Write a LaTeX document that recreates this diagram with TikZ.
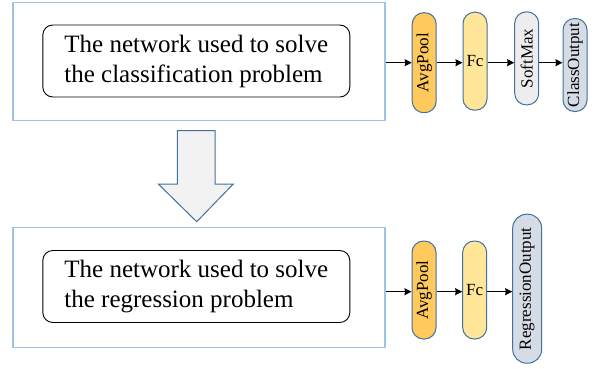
\documentclass[tikz,border=0pt]{standalone}
\usepackage{graphicx}
\usepackage{fontspec}
\setmainfont{Liberation Serif}
\usetikzlibrary{arrows.meta, positioning}

\definecolor{frameblue}{HTML}{9DC3E6}
\definecolor{edgeblue}{HTML}{41719C}
\definecolor{poolfill}{HTML}{FFC95B}
\definecolor{fcfill}{HTML}{FFE699}
\definecolor{softfill}{HTML}{EDEDED}
\definecolor{outfill}{HTML}{D6DCE5}
\definecolor{bigarrow}{HTML}{F2F2F2}

\begin{document}
\begin{tikzpicture}[
        x=1pt, y=-1pt,
        frame/.style={draw=frameblue, line width=1.1pt, inner sep=0pt, minimum width=372pt, minimum height=118pt},
        net/.style={draw, line width=0.9pt, rounded corners=10pt, inner sep=0pt, minimum width=307pt, minimum height=72pt,
          align=left, font=\fontsize{25}{30}\selectfont},
        layer/.style={draw=edgeblue, line width=1pt, rounded corners=11.5pt, inner sep=0pt, minimum width=24pt,
          font=\fontsize{17}{20}\selectfont},
        every edge/.style={draw, -{Stealth[length=7pt, width=7pt, inset=0.5pt]}, line width=1pt}
      ]
      \useasboundingbox (0,0) rectangle (595,368);

      % Classification branch
      \node[frame] (clsFrame) at (199,61.7) {};
      \node[net] (clsNet) at (196.3,61) {The network used to solve\\the classification problem};
      \node[layer, fill=poolfill, minimum height=100pt] (clsPool) at (424.2,62.7) {\rotatebox{90}{AvgPool}};
      \node[layer, fill=fcfill, minimum height=98pt] (clsFc) at (475,61.2) {Fc};
      \node[layer, fill=softfill, minimum height=93pt] (clsSoft) at (526.7,58.4) {\rotatebox{90}{SoftMax}};
      \node[layer, fill=outfill, minimum height=93pt] (clsOut) at (575,65) {\rotatebox{90}{ClassOutput}};

      \draw (clsFrame.east |- clsPool) edge (clsPool.west);
      \draw (clsPool.east) edge (clsPool.east -| clsFc.west);
      \draw (clsPool.east -| clsFc.east) edge (clsPool.east -| clsSoft.west);
      \draw (clsPool.east -| clsSoft.east) edge (clsPool.east -| clsOut.west);

      % Big arrow between the two branches
      \draw[draw=edgeblue, fill=bigarrow, line width=1pt]
        (177.3,130.7) -- (215,130.7) -- (215,184) -- (233.3,184) -- (196.7,221.7)
        -- (158.3,184) -- (177.3,184) -- cycle;

      % Regression branch
      \node[frame, minimum height=120pt] (regFrame) at (199,287.7) {};
      \node[net] (regNet) at (196.3,286.5) {The network used to solve\\the regression problem};
      \node[layer, fill=poolfill, minimum height=98pt] (regPool) at (424,290) {\rotatebox{90}{AvgPool}};
      \node[layer, fill=fcfill, minimum height=98pt] (regFc) at (474.7,290) {Fc};
      \node[layer, fill=outfill, minimum width=29pt, rounded corners=14pt, minimum height=149pt] (regOut) at (527.2,288.7)
        {\rotatebox{90}{RegressionOutput}};
      \coordinate (regLine) at (0,291.7);

      \draw (regFrame.east |- regLine) edge (regPool.west |- regLine);
      \draw (regPool.east |- regLine) edge (regFc.west |- regLine);
      \draw (regFc.east |- regLine) edge (regOut.west |- regLine);
    \end{tikzpicture}
\end{document}
